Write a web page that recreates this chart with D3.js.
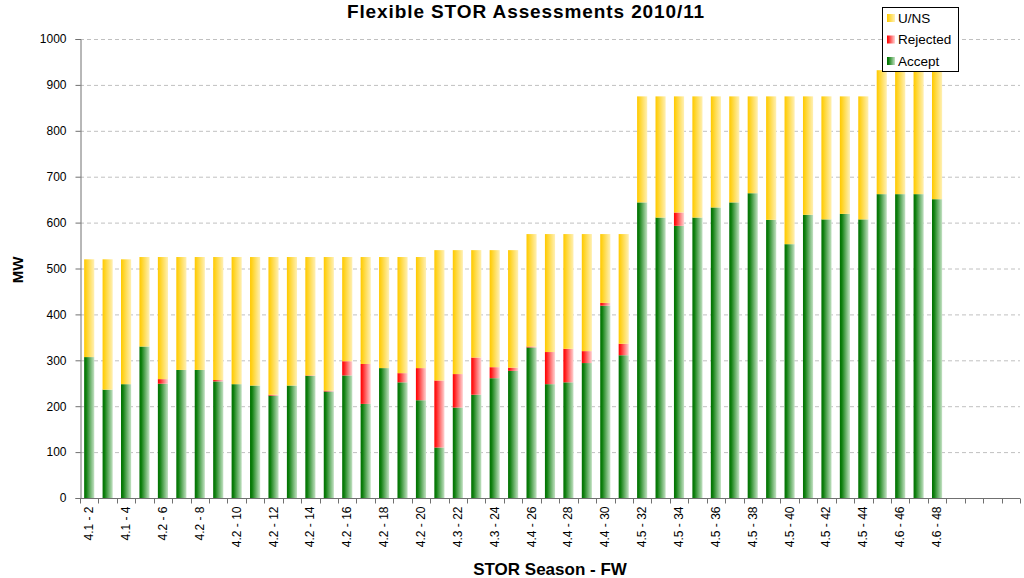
<!DOCTYPE html>
<html>
<head>
<meta charset="utf-8">
<script src="https://cdnjs.cloudflare.com/ajax/libs/d3/7.8.5/d3.min.js"></script>
<style>
  body { margin: 0; background: #fff; }
  svg text { font-family: "Liberation Sans", Arial, sans-serif; }
</style>
</head>
<body>
<svg id="chart" width="1024" height="578"></svg>
<script>
// categories: STOR season - FW (weeks 2..52, last four empty)
const categories = [
  "4.1 - 2", "4.1 - 3", "4.1 - 4", "4.2 - 5", "4.2 - 6", "4.2 - 7", "4.2 - 8", "4.2 - 9",
  "4.2 - 10", "4.2 - 11", "4.2 - 12", "4.2 - 13", "4.2 - 14", "4.2 - 15", "4.2 - 16", "4.2 - 17",
  "4.2 - 18", "4.2 - 19", "4.2 - 20", "4.3 - 21", "4.3 - 22", "4.3 - 23", "4.3 - 24", "4.3 - 25",
  "4.4 - 26", "4.4 - 27", "4.4 - 28", "4.4 - 29", "4.4 - 30", "4.4 - 31", "4.5 - 32", "4.5 - 33",
  "4.5 - 34", "4.5 - 35", "4.5 - 36", "4.5 - 37", "4.5 - 38", "4.5 - 39", "4.5 - 40", "4.5 - 41",
  "4.5 - 42", "4.5 - 43", "4.5 - 44", "4.6 - 45", "4.6 - 46", "4.6 - 47", "4.6 - 48",
  "", " ", "  ", "   "
];

const accept = [
  307, 236, 248, 330, 249, 279, 279, 254, 248, 245, 223, 245, 266, 232, 267, 205,
  283, 252, 213, 110, 197, 225, 261, 277, 328, 248, 252, 294, 419, 311, 644, 611,
  593, 611, 633, 644, 664, 606, 553, 617, 607, 619, 607, 662, 662, 662, 651
];
const rejected = [
  0, 0, 0, 0, 10, 0, 0, 3, 0, 0, 2, 0, 1, 2, 31, 87,
  0, 20, 70, 146, 73, 81, 24, 7, 2, 70, 73, 26, 6, 25, 0, 0,
  29, 0, 0, 0, 0, 0, 0, 0, 0, 0, 0, 0, 0, 0, 0
];
const uns = [
  213, 284, 272, 195, 266, 246, 246, 268, 277, 280, 300, 280, 258, 291, 227, 233,
  242, 253, 242, 284, 270, 234, 255, 256, 245, 257, 250, 255, 150, 239, 231, 264,
  253, 264, 242, 231, 211, 269, 322, 258, 268, 256, 268, 270, 270, 270, 281
];

const yTicks = [0, 100, 200, 300, 400, 500, 600, 700, 800, 900, 1000];
const seriesNames = ["Accept", "Rejected", "U/NS"];

const svg = d3.select("#chart");
const margin = { left: 80, right: 4, top: 39, bottom: 80 };
const W = 1024, H = 578;
const innerW = W - margin.left - margin.right;
const innerH = H - margin.top - margin.bottom;

const x = d3.scaleBand().domain(categories).range([margin.left, margin.left + innerW])
  .paddingInner(0.45).paddingOuter(0.225);
const y = d3.scaleLinear().domain([0, 1000]).range([margin.top + innerH, margin.top]);

// gradients
const defs = svg.append("defs");
const grads = {
  "Accept": ["#007000", "#0f800f", "#c4e2c4"],
  "Rejected": ["#ff0000", "#ff2020", "#ffd4d4"],
  "U/NS": ["#ffc800", "#ffd21e", "#fff0b4"]
};
Object.keys(grads).forEach((k, i) => {
  const g = defs.append("linearGradient").attr("id", "g" + i)
    .attr("x1", "0%").attr("x2", "100%").attr("y1", "0%").attr("y2", "0%");
  g.append("stop").attr("offset", "0%").attr("stop-color", grads[k][0]);
  g.append("stop").attr("offset", "20%").attr("stop-color", grads[k][1]);
  g.append("stop").attr("offset", "100%").attr("stop-color", grads[k][2]);
});
const fillOf = name => "url(#g" + Object.keys(grads).indexOf(name) + ")";

// grid lines
svg.append("g")
  .selectAll("line").data(yTicks.filter(d => d > 0)).join("line")
  .attr("x1", margin.left).attr("x2", margin.left + innerW)
  .attr("y1", d => y(d) + 0.5).attr("y2", d => y(d) + 0.5)
  .attr("stroke", "#c0c0c0").attr("stroke-dasharray", "4,3");

// stacked data
const rows = accept.map((a, i) => ({ cat: categories[i], "Accept": a, "Rejected": rejected[i], "U/NS": uns[i] }));
const stack = d3.stack().keys(seriesNames)(rows);

svg.append("g").selectAll("g").data(stack).join("g")
  .attr("fill", d => fillOf(d.key))
  .selectAll("rect").data(d => d).join("rect")
  .attr("x", d => x(d.data.cat))
  .attr("width", x.bandwidth())
  .attr("y", d => y(d[1]))
  .attr("height", d => y(d[0]) - y(d[1]));

// y axis
const yAxis = svg.append("g").attr("transform", `translate(${margin.left + 0.5},0)`)
  .call(d3.axisLeft(y).tickValues(yTicks).tickFormat(d3.format("d")).tickSize(5).tickPadding(9));
yAxis.select(".domain").attr("stroke", "#707070");
yAxis.selectAll(".tick line").attr("stroke", "#707070");
yAxis.selectAll("text").attr("font-size", 12).attr("fill", "#000")
  .attr("font-family", "'Liberation Sans', Arial, sans-serif");

// x axis: ticks at category boundaries
const xAxisY = margin.top + innerH + 0.5;
const step = x.step();
const boundaries = categories.map((c, i) => margin.left + i * step).concat([margin.left + innerW]);
svg.append("line").attr("x1", margin.left).attr("x2", margin.left + innerW)
  .attr("y1", xAxisY).attr("y2", xAxisY).attr("stroke", "#707070");
svg.append("g").selectAll("line").data(boundaries).join("line")
  .attr("x1", d => Math.round(d) + 0.5).attr("x2", d => Math.round(d) + 0.5)
  .attr("y1", xAxisY).attr("y2", xAxisY + 5).attr("stroke", "#707070");

svg.append("g").selectAll("text")
  .data(categories.filter((c, i) => i % 2 === 0 && c.trim() !== ""))
  .join("text")
  .attr("transform", d => `translate(${x(d) + x.bandwidth() / 2 + 4},${xAxisY + 8}) rotate(-90)`)
  .attr("text-anchor", "end")
  .attr("font-size", 12)
  .text(d => d);

// titles
svg.append("text").attr("x", 526).attr("y", 18).attr("text-anchor", "middle")
  .attr("font-size", 19).attr("letter-spacing", 0.9).attr("font-weight", "bold")
  .text("Flexible STOR Assessments 2010/11");
svg.append("text").attr("x", 550).attr("y", 575).attr("text-anchor", "middle")
  .attr("font-size", 17).attr("font-weight", "bold").text("STOR Season - FW");
svg.append("text").attr("transform", "translate(23,270) rotate(-90)").attr("text-anchor", "middle")
  .attr("font-size", 15).attr("font-weight", "bold").text("MW");

// legend
const lg = svg.append("g").attr("transform", "translate(882,7)");
lg.append("rect").attr("x", 0.5).attr("y", 0.5).attr("width", 76).attr("height", 64)
  .attr("fill", "#fff").attr("stroke", "#000");
const legendItems = ["U/NS", "Rejected", "Accept"];
legendItems.forEach((name, i) => {
  const gy = 11 + i * 21.5;
  lg.append("rect").attr("x", 5).attr("y", gy - 4).attr("width", 8).attr("height", 8)
    .attr("fill", fillOf(name));
  lg.append("text").attr("x", 16).attr("y", gy + 4.5).attr("font-size", 13.5).text(name);
});
</script>
</body>
</html>
